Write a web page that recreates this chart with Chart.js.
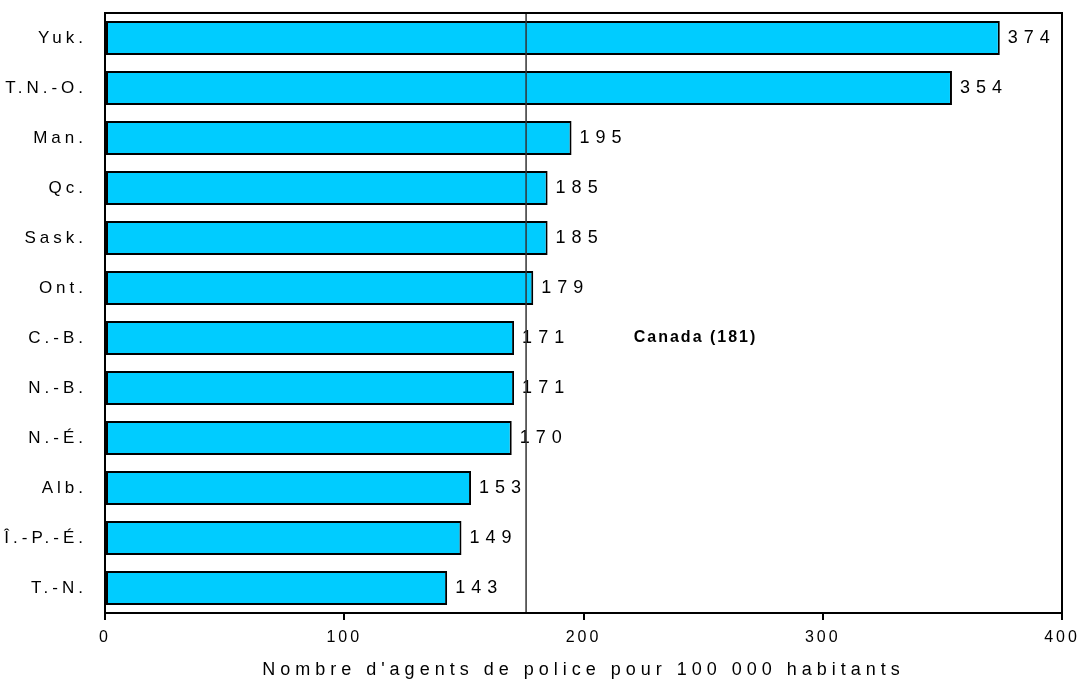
<!DOCTYPE html>
<html>
<head>
<meta charset="utf-8">
<title>Agents de police pour 100 000 habitants</title>
<script src="https://cdn.jsdelivr.net/npm/chart.js"></script>
<style>
  body { margin: 0; background: #fff; }
  canvas { display: block; }
</style>
</head>
<body>
<canvas id="policeChart" width="1081" height="681"></canvas>
<script>
// data
const provinces = ["Yuk.", "T.N.-O.", "Man.", "Qc.", "Sask.", "Ont.", "C.-B.", "N.-B.", "N.-É.", "Alb.", "Î.-P.-É.", "T.-N."];
const officersPer100k = [374, 354, 195, 185, 185, 179, 171, 171, 170, 153, 149, 143];
const xTicks = [0, 100, 200, 300, 400];
const canadaLine = 176;          // where the reference line is drawn
const canadaText = "Canada (181)";
const canadaRow = "C.-B.";       // row the Canada label sits on
const canadaLabelAt = 221;       // x value where the label starts
const axisTitle = "Nombre d'agents de police pour 100 000 habitants";

const FONT = "'Liberation Sans', Arial, sans-serif";

// the original uses widely spaced letters, canvas letterSpacing does that
const letterSpacing = {
    x: { drawLabels: "3px", drawTitle: "5px" },
    y: { drawLabels: "4px" }
};
["drawLabels", "drawTitle"].forEach(function(name) {
    const orig = Chart.Scale.prototype[name];
    Chart.Scale.prototype[name] = function() {
        const sp = letterSpacing[this.id] || {};
        this.ctx.save();
        this.ctx.letterSpacing = sp[name] || "0px";
        orig.apply(this, arguments);
        this.ctx.restore();
    };
});

const overlay = {
    id: "overlay",
    afterDatasetsDraw(chart) {
        const ctx = chart.ctx;
        const area = chart.chartArea;
        const x = chart.scales.x;
        const y = chart.scales.y;

        // value labels at the end of each bar
        ctx.save();
        ctx.font = "18px " + FONT;
        ctx.letterSpacing = "6px";
        ctx.fillStyle = "#000";
        ctx.textAlign = "left";
        ctx.textBaseline = "middle";
        chart.getDatasetMeta(0).data.forEach(function(bar, i) {
            ctx.fillText(String(officersPer100k[i]), bar.x + 8, bar.y);
        });
        ctx.restore();

        // Canada reference line
        const lx = x.getPixelForValue(canadaLine);
        ctx.save();
        ctx.strokeStyle = "#333";
        ctx.lineWidth = 1.5;
        ctx.beginPath();
        ctx.moveTo(lx, area.top);
        ctx.lineTo(lx, area.bottom);
        ctx.stroke();

        ctx.font = "bold 16px " + FONT;
        ctx.letterSpacing = "2px";
        ctx.fillStyle = "#000";
        ctx.textAlign = "left";
        ctx.textBaseline = "middle";
        ctx.fillText(canadaText, x.getPixelForValue(canadaLabelAt), y.getPixelForValue(provinces.indexOf(canadaRow)));
        ctx.restore();
    },
    afterDraw(chart) {
        const ctx = chart.ctx;
        const a = chart.chartArea;
        ctx.save();
        ctx.strokeStyle = "#000";
        ctx.lineWidth = 2;
        ctx.strokeRect(a.left, a.top, a.right - a.left, a.bottom - a.top);
        ctx.restore();
    }
};

new Chart(document.getElementById("policeChart"), {
    type: "bar",
    data: {
        labels: provinces,
        datasets: [{
            data: officersPer100k,
            backgroundColor: "#00CCFF",
            borderColor: "#000",
            borderWidth: 2,
            borderSkipped: false,
            barPercentage: 0.68,
            categoryPercentage: 1
        }]
    },
    options: {
        indexAxis: "y",
        responsive: false,
        animation: false,
        layout: { padding: { top: 13, right: 19, bottom: 0, left: 0 } },
        plugins: {
            legend: { display: false },
            tooltip: { enabled: false }
        },
        scales: {
            x: {
                min: 0,
                max: 400,
                afterBuildTicks: function(scale) {
                    scale.ticks = xTicks.map(function(v) { return { value: v }; });
                },
                afterFit: function(scale) {
                    scale.height = 68;
                    scale.paddingLeft = 0;
                    scale.paddingRight = 0;
                },
                border: { display: false },
                grid: {
                    drawOnChartArea: false,
                    drawTicks: true,
                    tickLength: 7,
                    color: "#000",
                    lineWidth: 2
                },
                ticks: {
                    padding: 8,
                    color: "#000",
                    font: { family: FONT, size: 16 }
                },
                title: {
                    display: true,
                    text: axisTitle,
                    color: "#000",
                    padding: { top: 0, bottom: 0 },
                    font: { family: FONT, size: 18 }
                }
            },
            y: {
                afterFit: function(scale) {
                    scale.width = 105;
                    scale.paddingTop = 0;
                    scale.paddingBottom = 0;
                },
                border: { display: false },
                grid: { display: false, drawTicks: false },
                ticks: {
                    padding: 18,
                    color: "#000",
                    font: { family: FONT, size: 17 }
                }
            }
        }
    },
    plugins: [overlay]
});
</script>
</body>
</html>
